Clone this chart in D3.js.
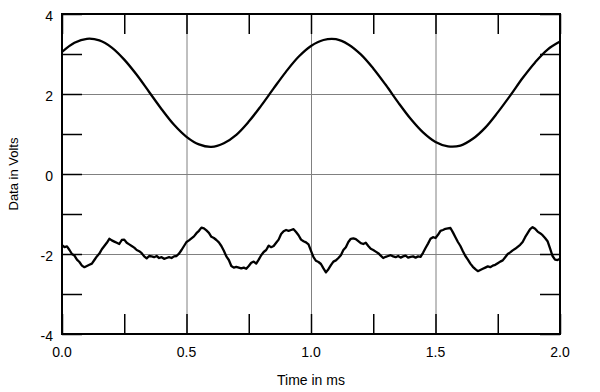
<!DOCTYPE html>
<html>
<head>
<meta charset="utf-8">
<script src="https://cdn.jsdelivr.net/npm/d3@7"></script>
<style>
	body { margin: 0; background: #fff; }
	text { font-family: "Liberation Sans", Arial, sans-serif; fill: #000; }
	.grid line { stroke: #808080; stroke-width: 1; }
	.grid path, .ticks path { display: none; }
	.ticks line { stroke: #000; stroke-width: 1.5; }
	.trace { fill: none; stroke: #000; stroke-width: 2.3; stroke-linejoin: round; }
</style>
</head>
<body>
<div class="chart"></div>
<script>
// DATA
// x axis (ms)
var xMajorTicks = [0.0, 0.5, 1.0, 1.5, 2.0];
var xMinorTicks = [0.25, 0.75, 1.25, 1.75];
// y axis (Volts)
var yMajorTicks = [-4, -2, 0, 2, 4];
var yMinorTicks = [-3, -1, 1, 3];

// upper trace, sampled every 0.05 ms
var sineStep = 0.05;
var sineVolts = [3.05, 3.28, 3.38, 3.34, 3.16, 2.86, 2.48, 2.05, 1.62, 1.23,
	0.93, 0.74, 0.68, 0.77, 0.98, 1.31, 1.71, 2.14, 2.56, 2.93,
	3.20, 3.35, 3.37, 3.24, 2.99, 2.64, 2.23, 1.79, 1.38, 1.04,
	0.80, 0.69, 0.71, 0.88, 1.16, 1.54, 1.96, 2.40, 2.79, 3.11, 3.31];

// lower (noisy) trace, sampled every 0.01 ms
var noiseStep = 0.01;
var noiseVolts = [-1.78, -1.83, -1.81, -1.90, -2.00, -2.04, -2.14, -2.20, -2.29, -2.33,
	-2.30, -2.27, -2.24, -2.15, -2.06, -1.99, -1.88, -1.80, -1.72, -1.62,
	-1.66, -1.69, -1.72, -1.75, -1.65, -1.64, -1.72, -1.76, -1.80, -1.84,
	-1.90, -1.93, -1.98, -2.06, -2.11, -2.05, -2.06, -2.08, -2.05, -2.10,
	-2.08, -2.12, -2.10, -2.08, -2.10, -2.06, -2.05, -1.99, -1.90, -1.80,
	-1.70, -1.66, -1.61, -1.56, -1.48, -1.42, -1.34, -1.36, -1.41, -1.47,
	-1.57, -1.60, -1.65, -1.71, -1.80, -1.92, -2.06, -2.15, -2.30, -2.34,
	-2.32, -2.34, -2.36, -2.34, -2.37, -2.30, -2.22, -2.19, -2.24, -2.14,
	-2.03, -1.95, -1.90, -1.79, -1.83, -1.80, -1.72, -1.64, -1.50, -1.43,
	-1.40, -1.42, -1.40, -1.38, -1.45, -1.53, -1.64, -1.68, -1.71, -1.76,
	-1.92, -2.08, -2.17, -2.20, -2.25, -2.36, -2.46, -2.38, -2.28, -2.19,
	-2.16, -2.10, -2.03, -1.90, -1.83, -1.70, -1.62, -1.61, -1.63, -1.68,
	-1.73, -1.75, -1.72, -1.80, -1.87, -1.90, -1.94, -1.98, -2.04, -2.10,
	-2.07, -2.05, -2.03, -2.06, -2.08, -2.05, -2.09, -2.06, -2.04, -2.09,
	-2.07, -2.06, -2.09, -2.06, -2.07, -1.97, -1.85, -1.74, -1.62, -1.58,
	-1.60, -1.52, -1.42, -1.40, -1.37, -1.36, -1.35, -1.46, -1.58, -1.70,
	-1.80, -1.93, -2.05, -2.14, -2.24, -2.32, -2.38, -2.43, -2.40, -2.37,
	-2.34, -2.31, -2.33, -2.29, -2.27, -2.23, -2.19, -2.16, -2.08, -2.00,
	-1.96, -1.91, -1.87, -1.82, -1.77, -1.70, -1.58, -1.48, -1.38, -1.33,
	-1.37, -1.44, -1.48, -1.53, -1.60, -1.68, -1.86, -2.05, -2.14, -2.15, -2.12];

// LAYOUT
var width = 600, height = 392;
var margin = { top: 14, right: 40, bottom: 58, left: 62 };
var plotW = width - margin.left - margin.right;
var plotH = height - margin.top - margin.bottom;
var tickLen = 20;

var svg = d3.select(".chart")
	.append("svg")
	.attr("width", width)
	.attr("height", height);

var plot = svg.append("g")
	.attr("transform", "translate(" + margin.left + "," + margin.top + ")");

var x = d3.scaleLinear().domain([0, 2]).range([0, plotW]);
var y = d3.scaleLinear().domain([-4, 4]).range([plotH, 0]);

// gridlines (gray)
plot.append("g")
	.attr("class", "grid")
	.attr("transform", "translate(0," + plotH + ")")
	.call(d3.axisBottom(x).tickValues([0.5, 1.0, 1.5]).tickSize(-plotH).tickFormat(""));
plot.append("g")
	.attr("class", "grid")
	.call(d3.axisLeft(y).tickValues([-2, 0, 2]).tickSize(-plotW).tickFormat(""));

// short black ticks on all four sides
var xAll = xMajorTicks.concat(xMinorTicks);
var yAll = yMajorTicks.concat(yMinorTicks);
plot.append("g").attr("class", "ticks")
	.attr("transform", "translate(0," + plotH + ")")
	.call(d3.axisBottom(x).tickValues(xAll).tickSize(-tickLen).tickFormat(""));
plot.append("g").attr("class", "ticks")
	.call(d3.axisTop(x).tickValues(xAll).tickSize(-tickLen).tickFormat(""));
plot.append("g").attr("class", "ticks")
	.call(d3.axisLeft(y).tickValues(yAll).tickSize(-tickLen).tickFormat(""));
plot.append("g").attr("class", "ticks")
	.attr("transform", "translate(" + plotW + ",0)")
	.call(d3.axisRight(y).tickValues(yAll).tickSize(-tickLen).tickFormat(""));

// tick labels
plot.append("g")
	.selectAll("text")
	.data(xMajorTicks)
	.enter().append("text")
		.attr("x", function(d) { return x(d); })
		.attr("y", plotH + 23)
		.attr("text-anchor", "middle")
		.style("font-size", "14px")
		.text(function(d) { return d3.format(".1f")(d); });

plot.append("g")
	.selectAll("text")
	.data(yMajorTicks)
	.enter().append("text")
		.attr("x", -9)
		.attr("y", function(d) { return y(d) + 2; })
		.attr("dy", "0.36em")
		.attr("text-anchor", "end")
		.style("font-size", "14px")
		.text(function(d) { return d; });

// axis titles
svg.append("text")
	.attr("x", margin.left + plotW / 2)
	.attr("y", 385)
	.attr("text-anchor", "middle")
	.style("font-size", "14px")
	.text("Time in ms");

svg.append("text")
	.attr("transform", "translate(18," + (margin.top + plotH / 2) + ") rotate(-90)")
	.attr("text-anchor", "middle")
	.style("font-size", "13px")
	.text("Data in Volts");

// traces
var sineLine = d3.line()
	.x(function(d, i) { return x(i * sineStep); })
	.y(function(d) { return y(d); })
	.curve(d3.curveCatmullRom);

var noiseLine = d3.line()
	.x(function(d, i) { return x(i * noiseStep); })
	.y(function(d) { return y(d); });

plot.append("path")
	.attr("class", "trace")
	.attr("d", sineLine(sineVolts));

plot.append("path")
	.attr("class", "trace")
	.attr("d", noiseLine(noiseVolts));

// frame
plot.append("rect")
	.attr("width", plotW)
	.attr("height", plotH)
	.attr("fill", "none")
	.attr("stroke", "#000")
	.attr("stroke-width", 2);
</script>
</body>
</html>
